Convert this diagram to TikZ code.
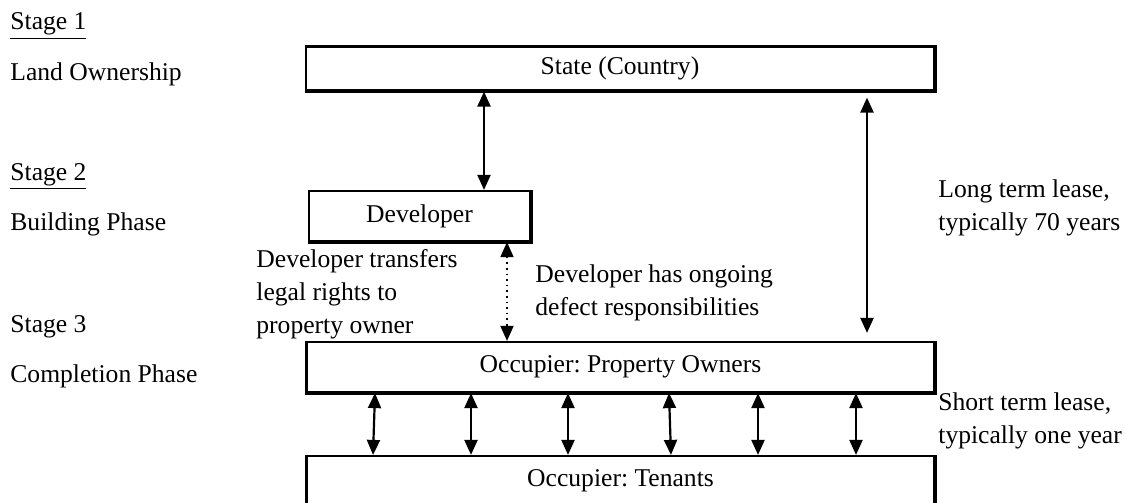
\documentclass[tikz,border=0pt]{standalone}
\usepackage{fontspec}
\setmainfont{Liberation Serif}
\usetikzlibrary{arrows.meta}

\tikzset{
  partybox/.style={draw, line width=1.1pt, inner sep=0pt, minimum width=314pt, minimum height=22pt},
  lbl/.style={anchor=base west, inner sep=0pt, align=left},
  lease/.style={<->, line width=1.1pt},
}

\begin{document}
\frenchspacing
\begin{tikzpicture}[x=0.5pt, y=-0.5pt, >={Triangle[width=6.5pt,length=7.5pt]},
  font=\fontsize{12.8}{16.5}\selectfont]

\useasboundingbox (0,0) rectangle (1125,503);

% =============================================================================
% STAGES (left column)
% =============================================================================
\node[lbl] (st1) at (10, 30) {\underline{Stage 1}};
\node[lbl] (land) at (10, 80) {Land Ownership};
\node[lbl] (st2) at (10, 180) {\underline{Stage 2}};
\node[lbl] (build) at (10, 230) {Building Phase};
\node[lbl] (st3) at (10, 332) {Stage 3};
\node[lbl] (compl) at (10, 382) {Completion Phase};

% =============================================================================
% PARTIES
% =============================================================================
\node[partybox] (state) at (620, 68.5) {State (Country)};
\node[partybox, minimum width=110.5pt, minimum height=25pt] (dev) at (419.5, 216) {Developer};
\node[partybox, minimum height=25pt] (owners) at (620.5, 367) {Occupier: Property Owners};
\node[partybox, minimum height=25pt] (tenants) at (620.5, 481) {Occupier: Tenants};

% heavier lower and right edges
\foreach \b in {state, dev, owners, tenants} {
    \draw[line width=1.6pt] (\b.south west) -- (\b.south east) -- (\b.north east);
}

% =============================================================================
% LEASES AND TRANSFERS
% =============================================================================
\coordinate (xdev) at (484, 0);
\coordinate (xdef) at (507, 0);
\coordinate (xlong) at (867, 0);

\draw[lease] (state.south -| xdev) -- (dev.north -| xdev);
\draw[lease, line width=0.8pt, dotted] (dev.south -| xdef) -- (owners.north -| xdef);
\draw[lease, shorten <=3pt, shorten >=4pt] (state.south -| xlong) -- (owners.north -| xlong);

% short term leases, owners - tenants
\foreach \xt/\xb [count=\i] in {375/373, 471/471, 568/568, 669/671, 758/758, 856/856} {
    \coordinate (t\i) at (\xt, 0);
    \coordinate (b\i) at (\xb, 0);
    \draw[lease] (owners.south -| t\i) -- (tenants.north -| b\i);
}

% =============================================================================
% NOTES (anchored at the baseline of the last line)
% =============================================================================
\node[lbl] (transfer) at (256, 333) {Developer transfers\\legal rights to\\property owner};
\node[lbl] (defect) at (535, 315) {Developer has ongoing\\defect responsibilities};
\node[lbl] (longterm) at (938, 230) {Long term lease,\\typically 70 years};
\node[lbl] (shortterm) at (938, 443) {Short term lease,\\typically one year};

\end{tikzpicture}
\end{document}
